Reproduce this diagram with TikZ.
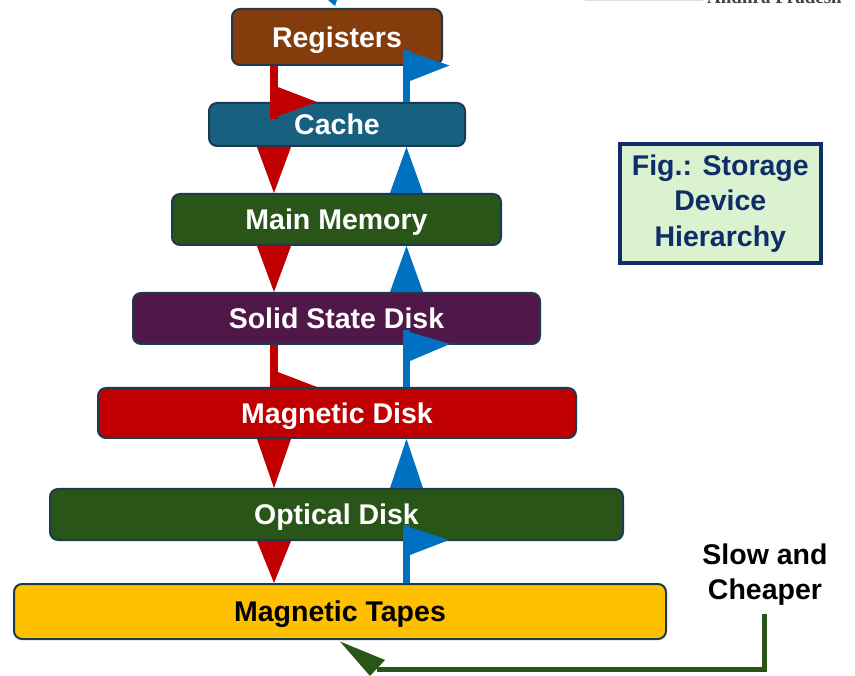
\documentclass[tikz,border=0pt]{standalone}
\usepackage{fontspec}
\setmainfont{Liberation Sans}
\newfontfamily\serifhead{Liberation Serif}
\usetikzlibrary{calc}
\pgfdeclarelayer{behind}
\pgfsetlayers{behind,main}
\definecolor{regc}{HTML}{843C0C}
\definecolor{cachec}{HTML}{17607F}
\definecolor{greenc}{HTML}{2A5519}
\definecolor{ssdc}{HTML}{4F1848}
\definecolor{mdc}{HTML}{C00000}
\definecolor{mtc}{HTML}{FFC000}
\definecolor{edgec}{HTML}{1C3B4E}
\definecolor{redarr}{HTML}{C00000}
\definecolor{bluearr}{HTML}{0070C0}
\definecolor{figfill}{HTML}{DAF2D0}
\definecolor{navyc}{HTML}{0F2D69}
\definecolor{arrgreen}{HTML}{2A5519}
\begin{document}
\begin{tikzpicture}[x=1pt,y=-1pt,
  level/.style={draw=edgec, line width=2pt, rounded corners=8pt, inner sep=0pt,
    text height=20.4pt, text depth=0pt, text=white,
    font=\bfseries\fontsize{28.5}{34}\selectfont},
  redline/.style={draw=redarr, line width=7.6pt},
  blueline/.style={draw=bluearr, line width=7pt},
  bigtext/.style={font=\bfseries\fontsize{28.5}{35}\selectfont, align=center, inner sep=0pt}]
\useasboundingbox (0,0) rectangle (855,676);

% header remnants
\draw[black!12, line width=1.5pt] (585,0.5) -- (703,0.5);
\node[font=\serifhead\bfseries\fontsize{19}{19}\selectfont, text=black!75, anchor=base west, inner sep=0pt] (ap) at (707,4) {Andhra Pradesh};

% levels
\node[level, fill=regc,   minimum width=210pt, minimum height=56pt] (reg)   at (337,37)     {Registers};
\node[level, fill=cachec, minimum width=256pt, minimum height=43pt] (cache) at (337,124.5)  {Cache};
\node[level, fill=greenc, minimum width=329pt, minimum height=51pt] (mm)    at (336.5,219.5){Main Memory};
\node[level, fill=ssdc,   minimum width=407pt, minimum height=51pt] (ssd)   at (336.5,318.5){Solid State Disk};
\node[level, fill=mdc,    minimum width=478pt, minimum height=50pt] (md)    at (337,413)    {Magnetic Disk};
\node[level, fill=greenc, minimum width=573pt, minimum height=51pt] (od)    at (336.5,514.5){Optical Disk};
\node[level, fill=mtc, text=black, minimum width=652pt, minimum height=55pt] (mt) at (340,611.5){Magnetic Tapes};

\coordinate (rx) at (274,0);
\coordinate (bx) at (406.5,0);

% top partial blue tip
\fill[bluearr] (328,0) -- (337,0) -- (335,6) -- cycle;

% Registers -> Cache (red flag)
\draw[redline] (rx|-reg.south) -- ($(rx|-cache.north)+(0,17)$);
\fill[redarr] ($(rx|-cache.north)+(3.8,-15)$) -- ($(rx|-cache.north)+(43,0)$) -- ($(rx|-cache.north)+(-3.8,17)$) -- cycle;
% Cache -> Registers (blue flag)
\draw[blueline] (bx|-cache.north) -- ($(bx|-reg.south)+(0,-16)$);
\fill[bluearr] ($(bx|-reg.south)+(-3.5,-16)$) -- ($(bx|-reg.south)+(43,-0.5)$) -- ($(bx|-reg.south)+(3.5,15)$) -- cycle;

% Cache <-> Main Memory
\fill[redarr] ($(rx|-cache.south)+(-17,0)$) -- ($(rx|-cache.south)+(17,0)$) -- (rx|-mm.north) -- cycle;
\fill[bluearr] ($(bx|-mm.north)+(-16.5,0)$) -- ($(bx|-mm.north)+(16.5,0)$) -- (bx|-cache.south) -- cycle;

% Main Memory <-> SSD
\fill[redarr] ($(rx|-mm.south)+(-17,0)$) -- ($(rx|-mm.south)+(17,0)$) -- (rx|-ssd.north) -- cycle;
\fill[bluearr] ($(bx|-ssd.north)+(-16.5,0)$) -- ($(bx|-ssd.north)+(16.5,0)$) -- (bx|-mm.south) -- cycle;

% SSD -> Magnetic Disk (red flag, partly hidden)
\begin{pgfonlayer}{behind}
\draw[redline] (rx|-ssd.south) -- ($(rx|-md.north)+(0,10)$);
\fill[redarr] ($(rx|-md.north)+(3.8,-15)$) -- ($(rx|-md.north)+(43,0)$) -- ($(rx|-md.north)+(-3.8,17)$) -- cycle;
\end{pgfonlayer}
% Magnetic Disk -> SSD (blue flag)
\draw[blueline] (bx|-md.north) -- ($(bx|-ssd.south)+(0,-15)$);
\fill[bluearr] ($(bx|-ssd.south)+(-3.5,-15)$) -- ($(bx|-ssd.south)+(43.5,-1)$) -- ($(bx|-ssd.south)+(3.5,16)$) -- cycle;

% Magnetic Disk <-> Optical Disk
\fill[redarr] ($(rx|-md.south)+(-17,0)$) -- ($(rx|-md.south)+(17,0)$) -- (rx|-od.north) -- cycle;
\fill[bluearr] ($(bx|-od.north)+(-16.5,0)$) -- ($(bx|-od.north)+(16.5,0)$) -- (bx|-md.south) -- cycle;

% Optical Disk <-> Magnetic Tapes
\fill[redarr] ($(rx|-od.south)+(-17,0)$) -- ($(rx|-od.south)+(17,0)$) -- (rx|-mt.north) -- cycle;
\draw[blueline] (bx|-mt.north) -- ($(bx|-od.south)+(0,-16)$);
\fill[bluearr] ($(bx|-od.south)+(-3.5,-16)$) -- ($(bx|-od.south)+(42.5,-1)$) -- ($(bx|-od.south)+(3.5,14)$) -- cycle;

% caption box
\node[draw=navyc, line width=4pt, fill=figfill, text=navyc, minimum width=200.7pt, minimum height=118.3pt,
  font=\bfseries\fontsize{28.5}{35.5}\selectfont, align=center, inner sep=0pt] (fig) at (720.3,203.4)
  {Fig.: Storage\\Device\\Hierarchy};

% slow and cheaper
\node[bigtext] (slow) at (765,574.5) {Slow and\\Cheaper};
\coordinate (gstart) at (764,614);
\coordinate (gend) at (377,669);
\coordinate (gtip) at (340,641.5);
\draw[arrgreen, line width=5pt] (gstart) |- (gend);
\fill[arrgreen] (gtip) -- (385,660) -- (370,676) -- cycle;
\end{tikzpicture}
\end{document}
